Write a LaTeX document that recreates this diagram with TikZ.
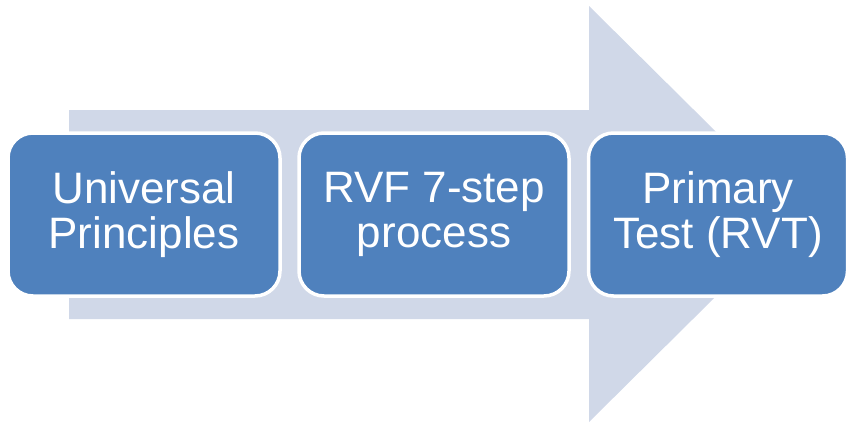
\documentclass[tikz,border=0pt]{standalone}
\usepackage{fontspec}
\setmainfont{Liberation Sans}
\definecolor{boxblue}{HTML}{4F81BD}
\definecolor{arrowgrey}{HTML}{D0D8E8}
\begin{document}
\begin{tikzpicture}[x=1pt,y=-1pt,
  stagebox/.style={draw=white, line width=3.5pt, fill=boxblue, rounded corners=25pt,
    minimum height=163pt, text=white, align=center, inner sep=0pt,
    font=\fontsize{44}{45.5}\selectfont}]
\useasboundingbox (0,0) rectangle (848,423);
\fill[arrowgrey] (69,110) -- (589,110) -- (589,6) -- (799,214) -- (589,422) -- (589,319) -- (69,319) -- cycle;
\node[stagebox, minimum width=272pt] (up) at (144,214.5) {Universal\\Principles};
\node[stagebox, minimum width=270pt] (rvf) at (434,214.5) {RVF 7-step\\process};
\node[stagebox, minimum width=259pt] (rvt) at (718,214.5) {Primary\\Test (RVT)};
\end{tikzpicture}
\end{document}
